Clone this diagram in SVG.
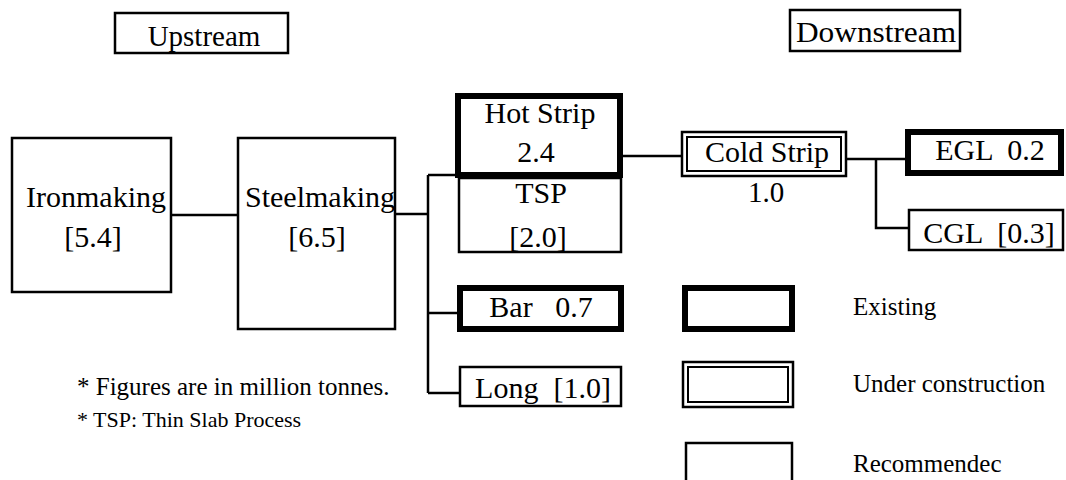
<svg xmlns="http://www.w3.org/2000/svg" width="1066" height="480" viewBox="0 0 1066 480" xml:space="preserve">
<style>
  .bg { fill: #ffffff; }
  .thin { fill: #ffffff; stroke: #000; stroke-width: 2.5; }
  .thick { fill: #ffffff; stroke: #000; stroke-width: 6; }
  .inner { fill: none; stroke: #000; stroke-width: 2; }
  .conn { fill: none; stroke: #000; stroke-width: 2.5; }
  text { font-family: "Liberation Serif", "Times New Roman", serif; fill: #000; white-space: pre; }
  .lbl { font-size: 30px; text-anchor: middle; }
  .leg { font-size: 25px; }
  .note1 { font-size: 25px; }
  .note2 { font-size: 22px; }
</style>
<rect class="bg" x="0" y="0" width="1066" height="480"/>

<g id="connectors">
  <path class="conn" d="M172 215 H237"/>
  <path class="conn" d="M396 214 H428"/>
  <path class="conn" d="M428 175 V393"/>
  <path class="conn" d="M428 175 H458"/>
  <path class="conn" d="M428 313 H457"/>
  <path class="conn" d="M428 393 H459"/>
  <path class="conn" d="M623 156 H681"/>
  <path class="conn" d="M847 159 H905"/>
  <path class="conn" d="M876 159 V228 H908"/>
</g>

<g id="upstream">
  <rect class="thin" x="115" y="13" width="173" height="40"/>
  <text class="lbl" x="204" y="46" style="font-size:29px">Upstream</text>
</g>

<g id="downstream">
  <rect class="thin" x="790" y="10" width="170" height="41"/>
  <text class="lbl" x="876" y="42" textLength="160" lengthAdjust="spacingAndGlyphs">Downstream</text>
</g>

<g id="ironmaking">
  <rect class="thin" x="12" y="138" width="159" height="154"/>
  <text class="lbl" x="96" y="207">Ironmaking</text>
  <text class="lbl" x="93" y="247">[5.4]</text>
</g>

<g id="steelmaking">
  <rect class="thin" x="238" y="138" width="157" height="191"/>
  <text class="lbl" x="320" y="207">Steelmaking</text>
  <text class="lbl" x="317" y="247">[6.5]</text>
</g>

<g id="tsp">
  <rect class="thin" x="459" y="178" width="162" height="74"/>
  <text class="lbl" x="541" y="203">TSP</text>
  <text class="lbl" x="538" y="247">[2.0]</text>
</g>

<g id="hot-strip">
  <rect class="thick" x="458" y="96" width="162" height="79"/>
  <text class="lbl" x="540" y="123">Hot Strip</text>
  <text class="lbl" x="536" y="162">2.4</text>
</g>

<g id="cold-strip">
  <rect class="thin" x="682" y="132" width="164" height="44"/>
  <rect class="inner" x="687" y="137" width="154" height="34"/>
  <text class="lbl" x="767" y="162">Cold Strip</text>
  <text class="lbl" x="766" y="202" style="font-size:29px">1.0</text>
</g>

<g id="egl">
  <rect class="thick" x="908" y="132" width="153" height="41"/>
  <text class="lbl" x="990" y="160">EGL  0.2</text>
</g>

<g id="cgl">
  <rect class="thin" x="909" y="210" width="154" height="40"/>
  <text class="lbl" x="989" y="243">CGL  [0.3]</text>
</g>

<g id="bar">
  <rect class="thick" x="460" y="288" width="161" height="41"/>
  <text class="lbl" x="541" y="317">Bar   0.7</text>
</g>

<g id="long">
  <rect class="thin" x="460" y="367" width="161" height="39"/>
  <text class="lbl" x="543" y="398">Long  [1.0]</text>
</g>

<g id="legend-existing">
  <rect class="thick" x="685" y="288" width="107" height="41"/>
  <text class="leg" x="853" y="315">Existing</text>
</g>

<g id="legend-under-construction">
  <rect class="thin" x="683" y="362" width="110" height="45"/>
  <rect class="inner" x="688" y="367" width="100" height="35"/>
  <text class="leg" x="853" y="392">Under construction</text>
</g>

<g id="legend-recommended">
  <rect class="thin" x="686" y="443" width="106" height="42"/>
  <text class="leg" x="853" y="472">Recommendec</text>
</g>

<g id="notes">
  <text class="note1" x="77" y="395">* Figures are in million tonnes.</text>
  <text class="note2" x="77" y="427">* TSP: Thin Slab Process</text>
</g>
</svg>
